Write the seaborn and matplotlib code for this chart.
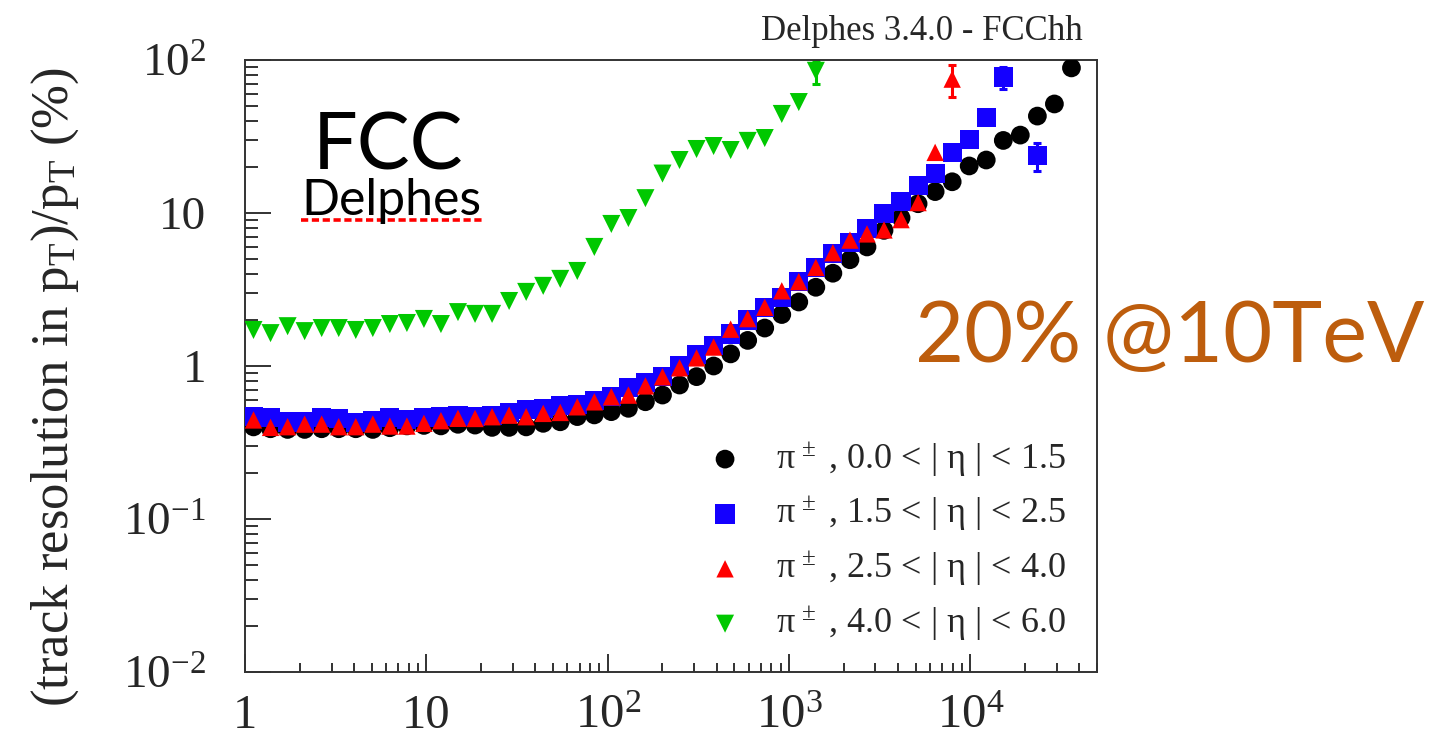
import numpy as np
import pandas as pd
import matplotlib
matplotlib.use("Agg")
import matplotlib.pyplot as plt
import seaborn as sns
from matplotlib.lines import Line2D
from matplotlib.ticker import FixedLocator, FixedFormatter, LogLocator, NullFormatter

# ---------------- data ----------------
# bin centres in pT (GeV), 50 log bins between 1 and 5e4
pt_bins = [1.114, 1.383, 1.718, 2.133, 2.648, 3.288, 4.083, 5.069, 6.294, 7.815,
           9.701, 12.04, 14.95, 18.57, 23.05, 28.62, 35.54, 44.12, 54.78, 68.02,
           84.45, 104.8, 130.2, 161.6, 200.7, 249.2, 309.4, 384.1, 476.9, 592.2,
           735.3, 912.9, 1133, 1407, 1747, 2170, 2694, 3344, 4152, 5155,
           6401, 7948, 9866, 12250, 15210, 18880, 23450, 29110, 36150, 44880]

nan = np.nan
res_eta_0_15 = [0.400, 0.389, 0.385, 0.385, 0.389, 0.389, 0.389, 0.385, 0.395, 0.406,
                0.409, 0.406, 0.416, 0.411, 0.397, 0.397, 0.400, 0.422, 0.432, 0.467,
                0.479, 0.503, 0.529, 0.584, 0.646, 0.751, 0.852, 1.00, 1.20, 1.47,
                1.77, 2.17, 2.62, 3.27, 4.04, 4.95, 6.00, 7.70, 9.30, 11.5,
                13.8, 16.0, 20.3, 22.2, 29.8, 32.3, 43.0, 51.6, 88.8, nan]
res_eta_15_25 = [0.470, 0.458, 0.431, 0.431, 0.458, 0.454, 0.426, 0.441, 0.458, 0.447,
                 0.462, 0.470, 0.475, 0.470, 0.475, 0.494, 0.520, 0.525, 0.552, 0.560,
                 0.597, 0.635, 0.720, 0.776, 0.859, 1.01, 1.19, 1.36, 1.62, 2.00,
                 2.40, 2.80, 3.55, 4.40, 5.45, 6.40, 7.90, 9.95, 11.85, 15.1,
                 18.2, 25.0, 30.2, 42.0, 77.5, nan, 23.8, nan, nan, nan]
res_eta_25_40 = [0.444, 0.397, 0.401, 0.417, 0.417, 0.401, 0.401, 0.417, 0.405, 0.405,
                 0.422, 0.439, 0.455, 0.454, 0.466, 0.477, 0.466, 0.490, 0.497, 0.541,
                 0.583, 0.629, 0.645, 0.741, 0.850, 0.973, 1.13, 1.33, 1.74, 2.04,
                 2.42, 3.10, 3.56, 4.41, 5.50, 6.65, 7.30, 7.75, 9.05, 11.7,
                 24.9, 75.0, nan, nan, nan, nan, nan, nan, nan, nan]
res_eta_40_60 = [1.72, 1.64, 1.82, 1.69, 1.77, 1.77, 1.72, 1.77, 1.88, 1.91,
                 2.03, 1.88, 2.25, 2.19, 2.19, 2.66, 3.05, 3.34, 3.71, 4.18,
                 6.00, 8.48, 9.27, 12.5, 18.1, 22.2, 26.2, 27.4, 25.8, 29.6,
                 30.9, 44.4, 53.1, 85.0, nan, nan, nan, nan, nan, nan,
                 nan, nan, nan, nan, nan, nan, nan, nan, nan, nan]

series_labels = [r"$\pi^{\,\pm}$ , 0.0 < | $\eta$ | < 1.5",
                 r"$\pi^{\,\pm}$ , 1.5 < | $\eta$ | < 2.5",
                 r"$\pi^{\,\pm}$ , 2.5 < | $\eta$ | < 4.0",
                 r"$\pi^{\,\pm}$ , 4.0 < | $\eta$ | < 6.0"]
series_values = [res_eta_0_15, res_eta_15_25, res_eta_25_40, res_eta_40_60]

# visible error bars (series index, bin index, half-width in %)
err_series = [1, 1, 2, 3]
err_bin = [44, 46, 41, 33]
err_size = [13.0, 5.0, 18.0, 15.0]

x_ticks = [1, 10, 100, 1000, 10000]
x_ticklabels = ["1", "10", r"$10^{2}$", r"$10^{3}$", r"$10^{4}$"]
y_ticks = [0.01, 0.1, 1, 10, 100]
y_ticklabels = [r"$10^{-2}$", r"$10^{-1}$", "1", "10", r"$10^{2}$"]

# ---------------- styling ----------------
sns.set_theme(style="ticks")
plt.rcParams["font.family"] = ["Liberation Serif", "DejaVu Serif"]
plt.rcParams["mathtext.fontset"] = "custom"
plt.rcParams["mathtext.rm"] = "Liberation Serif"
plt.rcParams["mathtext.it"] = "Liberation Serif:italic"
plt.rcParams["mathtext.default"] = "regular"

colors = ["#000000", "#1400ff", "#ff0000", "#00c800"]
markers = ["o", "s", "^", "v"]
msizes = [13.5, 13.8, 12.5, 13.0]   # points

W, H = 1441, 743
fig = plt.figure(figsize=(W / 100, H / 100), dpi=100)
fig.patch.set_facecolor("white")
ax = fig.add_axes([245 / W, 1 - 672 / H, (1097 - 245) / W, (672 - 60) / H])
ax.set_facecolor("white")

for i, (vals, lab) in enumerate(zip(series_values, series_labels)):
    df = pd.DataFrame({"pt": pt_bins, "res": vals}).dropna()
    sns.scatterplot(data=df, x="pt", y="res", marker=markers[i], color=colors[i],
                    s=msizes[i] ** 2, linewidth=0, edgecolor="none", ax=ax,
                    label=lab, zorder=3 + i)

for si, bi, e in zip(err_series, err_bin, err_size):
    ax.errorbar([pt_bins[bi]], [series_values[si][bi]], yerr=[[e], [e]], fmt="none",
                ecolor=colors[si], elinewidth=2.2, capsize=3, capthick=2.2, zorder=2)

ax.set_xscale("log")
ax.set_yscale("log")
ax.set_xlim(1, 5e4)
ax.set_ylim(0.01, 100)
ax.set_xlabel("")
ax.set_ylabel("")

ax.xaxis.set_major_locator(FixedLocator(x_ticks))
ax.xaxis.set_major_formatter(FixedFormatter(x_ticklabels))
ax.yaxis.set_major_locator(FixedLocator(y_ticks))
ax.yaxis.set_major_formatter(FixedFormatter(y_ticklabels))
ax.xaxis.set_minor_locator(LogLocator(base=10, subs=np.arange(2, 10), numticks=20))
ax.yaxis.set_minor_locator(LogLocator(base=10, subs=np.arange(2, 10), numticks=20))
ax.xaxis.set_minor_formatter(NullFormatter())
ax.yaxis.set_minor_formatter(NullFormatter())

ax.tick_params(axis="both", which="both", direction="in", top=False, right=False,
               color="#222222", width=1.3)
ax.tick_params(axis="y", which="major", length=19, pad=28, labelsize=34)
ax.tick_params(axis="y", which="minor", length=9.5)
ax.tick_params(axis="x", which="major", length=13, pad=16, labelsize=35)
ax.tick_params(axis="x", which="minor", length=6.5)
for sp in ax.spines.values():
    sp.set_visible(True)
    sp.set_color("#333333")
    sp.set_linewidth(1.4)

# legend
leg = ax.legend(loc="upper left", bbox_to_anchor=(707 / W, 1 - 440 / H),
                bbox_transform=fig.transFigure, frameon=False, fontsize=26,
                handlelength=1.0, handletextpad=0.9, labelspacing=0.45,
                borderpad=0, borderaxespad=0, scatterpoints=1)

# y axis title
fig.text(55 / W, 1 - 387 / H, r"(track resolution in p$_{T}$)/p$_{T}$ (%)",
         rotation=90, ha="center", va="center", fontsize=38)

# top-right title
fig.text(1083 / W, 1 - 40 / H, "Delphes 3.4.0 - FCChh", ha="right", va="baseline",
         fontsize=25)

# FCC / Delphes logo
fig.text(313 / W, 1 - 170 / H, "FCC", ha="left", va="baseline", fontsize=57,
         family="Lato", color="black", zorder=5)
fig.add_artist(Line2D([301 / W, 484 / W], [1 - 220 / H, 1 - 220 / H],
                      transform=fig.transFigure, color="#ff0000", lw=2.6,
                      linestyle=(0, (2.0, 1.0)), zorder=4))
fig.text(301 / W, 1 - 215 / H, "Delphes", ha="left", va="baseline", fontsize=36,
         family="Lato", color="black", zorder=5)

# annotation
fig.text(915 / W, 1 - 362 / H, "20% @10TeV", ha="left", va="baseline",
         fontsize=61, family="Lato", color="#bd5d0d", zorder=6)

fig.savefig("out.png", dpi=100, facecolor="white")
